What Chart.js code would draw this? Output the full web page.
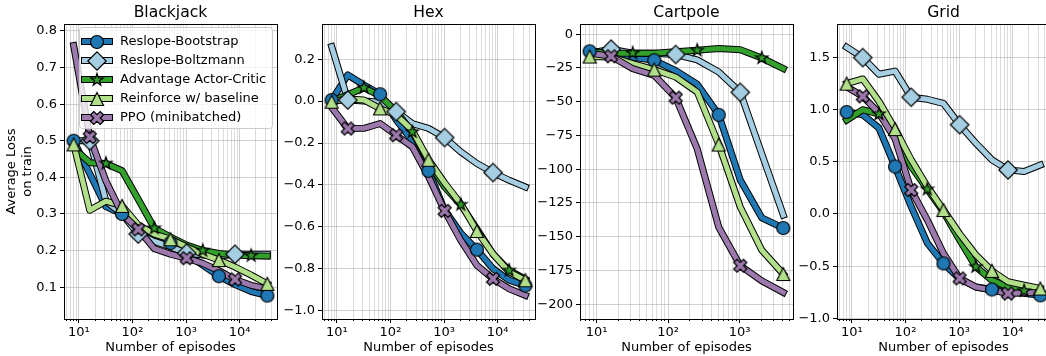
<!DOCTYPE html>
<html>
<head>
<meta charset="utf-8">
<script src="https://cdn.jsdelivr.net/npm/chart.js@4.4.1/dist/chart.umd.min.js"></script>
<style>
  html, body { margin: 0; padding: 0; background: #fff; width: 1046px; height: 356px; overflow: hidden; position: relative; }
  canvas { position: absolute; top: 0; }
</style>
</head>
<body>
<canvas id="c0" width="284" height="356" style="left:0px"></canvas>
<canvas id="c1" width="284" height="356" style="left:258px"></canvas>
<canvas id="c2" width="284" height="356" style="left:516px"></canvas>
<canvas id="c3" width="284" height="356" style="left:773px"></canvas>
<script>
/* ---- data ---- */
const episodes = [8, 16, 32, 64, 128, 256, 512, 1024, 2048, 4096, 8192, 16384, 32768];
const episodesCartpole = [8, 16, 32, 64, 128, 256, 512, 1024, 2048, 4096];

const seriesNames = ['Reslope-Bootstrap', 'Reslope-Boltzmann', 'Advantage Actor-Critic', 'Reinforce w/ baseline', 'PPO (minibatched)'];
const seriesColors = ['#1f78b4', '#a6cee3', '#33a02c', '#b2df8a', '#9c79ac'];
const seriesMarkers = ['circle', 'diamond', 'star', 'triangle', 'x'];
const markerOffsets = [0, 1, 2, 0, 1];

// Blackjack
const bjBootstrap = [0.50, 0.41, 0.32, 0.30, 0.255, 0.238, 0.221, 0.19, 0.16, 0.13, 0.107, 0.088, 0.077];
const bjBoltzmann = [0.50, 0.50, 0.335, 0.30, 0.245, 0.225, 0.21, 0.193, 0.188, 0.185, 0.19, 0.19, 0.19];
const bjA2C = [0.48, 0.44, 0.438, 0.418, 0.34, 0.261, 0.237, 0.215, 0.200, 0.192, 0.188, 0.186, 0.185];
const bjReinforce = [0.49, 0.31, 0.335, 0.322, 0.27, 0.245, 0.231, 0.21, 0.19, 0.174, 0.155, 0.133, 0.109];
const bjPPO = [0.76, 0.51, 0.39, 0.30, 0.258, 0.205, 0.19, 0.179, 0.165, 0.145, 0.121, 0.105, 0.095];

// Hex
const hexBootstrap = [0.005, 0.125, 0.077, 0.033, -0.09, -0.19, -0.333, -0.52, -0.63, -0.709, -0.80, -0.855, -0.88];
const hexBoltzmann = [0.26, 0.005, 0.0, -0.005, -0.05, -0.107, -0.13, -0.174, -0.242, -0.298, -0.341, -0.378, -0.41];
const hexA2C = [0.0, 0.03, 0.064, 0.025, -0.05, -0.147, -0.29, -0.41, -0.494, -0.61, -0.73, -0.808, -0.85];
const hexReinforce = [-0.003, 0.01, 0.005, -0.035, -0.067, -0.14, -0.28, -0.39, -0.49, -0.62, -0.73, -0.815, -0.855];
const hexPPO = [-0.03, -0.131, -0.13, -0.107, -0.163, -0.218, -0.36, -0.524, -0.665, -0.784, -0.848, -0.896, -0.927];

// Cartpole
const cpBootstrap = [-12.6, -14, -17, -19.3, -27, -37, -59.7, -108, -136, -143.6];
const cpBoltzmann = [-14, -11, -14, -14, -15, -19, -28, -43, -88.6, -134];
const cpA2C = [-13, -14, -14, -14, -13, -11.9, -10.6, -11.4, -17.6, -25.5];
const cpReinforce = [-16.5, -16.8, -21.8, -26.2, -31.7, -42.8, -81.7, -128, -160, -177.7];
const cpPPO = [-14, -16.3, -25.5, -30.4, -47, -85, -143, -171.5, -182.7, -191.3];

// Grid
const gridBootstrap = [0.978, 0.952, 0.824, 0.455, 0.07, -0.28, -0.474, -0.62, -0.70, -0.724, -0.75, -0.76, -0.78];
const gridBoltzmann = [1.60, 1.50, 1.34, 1.37, 1.12, 1.10, 1.06, 0.856, 0.68, 0.52, 0.423, 0.407, 0.47];
const gridA2C = [0.90, 1.0, 0.958, 0.776, 0.455, 0.237, 0.02, -0.25, -0.506, -0.635, -0.70, -0.737, -0.756];
const gridReinforce = [1.25, 1.295, 1.08, 0.814, 0.52, 0.263, 0.038, -0.19, -0.39, -0.545, -0.65, -0.683, -0.715];
const gridPPO = [1.22, 1.128, 0.968, 0.72, 0.23, -0.058, -0.378, -0.618, -0.70, -0.73, -0.763, -0.756, -0.756];

// axis ticks
const xTicksLong = [6, 7, 8, 9, 10, 20, 30, 40, 50, 60, 70, 80, 90, 100, 200, 300, 400, 500, 600, 700, 800, 900,
  1000, 2000, 3000, 4000, 5000, 6000, 7000, 8000, 9000, 10000, 20000, 30000, 40000];
const xTicksShort = [6, 7, 8, 9, 10, 20, 30, 40, 50, 60, 70, 80, 90, 100, 200, 300, 400, 500, 600, 700, 800, 900,
  1000, 2000, 3000, 4000, 5000];
const xTickLabels = { 10: '10¹', 100: '10²', 1000: '10³', 10000: '10⁴' };

const bjYTicks = [0.1, 0.2, 0.3, 0.4, 0.5, 0.6, 0.7, 0.8];
const bjYLabels = ['0.1', '0.2', '0.3', '0.4', '0.5', '0.6', '0.7', '0.8'];
const hexYTicks = [-1.0, -0.8, -0.6, -0.4, -0.2, 0.0, 0.2];
const hexYLabels = ['−1.0', '−0.8', '−0.6', '−0.4', '−0.2', '0.0', '0.2'];
const cpYTicks = [-200, -175, -150, -125, -100, -75, -50, -25, 0];
const cpYLabels = ['−200', '−175', '−150', '−125', '−100', '−75', '−50', '−25', '0'];
const gridYTicks = [-1.0, -0.5, 0.0, 0.5, 1.0, 1.5];
const gridYLabels = ['−1.0', '−0.5', '0.0', '0.5', '1.0', '1.5'];

/* ---- styling ---- */
const FONT = 'DejaVu Sans';
Chart.defaults.font.family = FONT;
Chart.defaults.color = '#000';
const MS = 13;
const GRID_MAJOR = 'rgba(176,176,176,0.6)';
const GRID_MINOR = 'rgba(176,176,176,0.45)';

function markerCanvas(shape, fill) {
  const size = 24;
  const c = document.createElement('canvas');
  c.width = size; c.height = size;
  const g = c.getContext('2d');
  const h = size / 2;
  const r = MS / 2;
  g.beginPath();
  if (shape === 'circle') {
    g.arc(h, h, r, 0, Math.PI * 2);
  } else if (shape === 'diamond') {
    const d = MS * Math.SQRT1_2;
    g.moveTo(h, h - d); g.lineTo(h + d, h); g.lineTo(h, h + d); g.lineTo(h - d, h);
  } else if (shape === 'triangle') {
    g.moveTo(h, h - r); g.lineTo(h + r, h + r); g.lineTo(h - r, h + r);
  } else if (shape === 'star') {
    const inner = r * 0.381966;
    for (let k = 0; k < 10; k++) {
      const a = -Math.PI / 2 + k * Math.PI / 5;
      const rr = k % 2 === 0 ? r : inner;
      g.lineTo(h + rr * Math.cos(a), h + rr * Math.sin(a));
    }
  } else if (shape === 'x') {
    const pts = [[-1, -2], [0, -1], [1, -2], [2, -1], [1, 0], [2, 1], [1, 2], [0, 1], [-1, 2], [-2, 1], [-1, 0], [-2, -1]];
    pts.forEach(([px, py]) => g.lineTo(h + px / 4 * MS, h + py / 4 * MS));
  }
  g.closePath();
  g.fillStyle = fill;
  g.fill();
  g.lineWidth = 1.2;
  g.lineJoin = 'miter';
  g.strokeStyle = '#000';
  g.stroke();
  return c;
}

const markerImgs = seriesMarkers.map((m, i) => markerCanvas(m, seriesColors[i]));

// frame + tick marks (matplotlib style box)
const axesDecor = {
  id: 'axesDecor',
  afterDatasetsDraw(chart) {
    const { ctx, chartArea: a, scales } = chart;
    const align = p => Math.round(p - 0.5) + 0.5;
    ctx.save();
    ctx.strokeStyle = '#000';
    ctx.lineWidth = 1;
    ctx.beginPath();
    scales.x.ticks.forEach(t => {
      const px = align(scales.x.getPixelForValue(t.value));
      ctx.moveTo(px, a.bottom);
      ctx.lineTo(px, a.bottom + (t.major ? 4 : 2));
    });
    scales.y.ticks.forEach(t => {
      const py = align(scales.y.getPixelForValue(t.value));
      ctx.moveTo(a.left, py);
      ctx.lineTo(a.left - 4, py);
    });
    ctx.stroke();
    ctx.strokeRect(align(a.left), align(a.top), Math.round(a.right - a.left), Math.round(a.bottom - a.top));
    ctx.restore();
  },
  afterDraw(chart, args, opts) {
    const { ctx, chartArea: a } = chart;
    ctx.save();
    ctx.font = '15.6px "' + FONT + '"';
    ctx.fillStyle = '#000';
    ctx.textAlign = 'center';
    ctx.textBaseline = 'middle';
    ctx.fillText(opts.title, (a.left + a.right) / 2, 13);
    ctx.restore();
  }
};

// legend drawn inside the Blackjack axes
const legendInside = {
  id: 'legendInside',
  afterDraw(chart) {
    const { ctx } = chart;
    ctx.save();
    const bx = 79.5, by = 27.5, bw = 193, bh = 101;
    ctx.beginPath();
    ctx.roundRect(bx, by, bw, bh, 3);
    ctx.fillStyle = 'rgba(255,255,255,0.8)';
    ctx.fill();
    ctx.strokeStyle = '#cccccc';
    ctx.lineWidth = 1;
    ctx.stroke();
    seriesNames.forEach((name, i) => {
      const yy = 41.5 + i * 19;
      ctx.lineCap = 'butt';
      ctx.strokeStyle = '#000';
      ctx.lineWidth = 7;
      ctx.beginPath(); ctx.moveTo(81, yy); ctx.lineTo(113, yy); ctx.stroke();
      ctx.strokeStyle = seriesColors[i];
      ctx.lineWidth = 5;
      ctx.beginPath(); ctx.moveTo(82, yy); ctx.lineTo(112, yy); ctx.stroke();
      const img = markerImgs[i];
      ctx.drawImage(img, 97 - img.width / 2, Math.round(yy) - img.height / 2);
      ctx.font = '13px "' + FONT + '"';
      ctx.fillStyle = '#000';
      ctx.textAlign = 'left';
      ctx.textBaseline = 'middle';
      ctx.fillText(name, 120, yy);
    });
    ctx.restore();
  }
};

function makePanel(id, title, xs, series, xMin, xMax, xTicks, yMin, yMax, yTicks, yLabels, withYTitle, extraPlugins) {
  const datasets = [];
  series.forEach((vals, s) => {
    const pts = xs.map((e, i) => ({ x: e, y: vals[i] }));
    datasets.push({
      data: pts, borderColor: '#000', borderWidth: 7, pointRadius: 0,
      borderCapStyle: 'square', borderJoinStyle: 'round', order: 100 - 2 * s
    });
    datasets.push({
      data: pts, borderColor: seriesColors[s], borderWidth: 5, pointRadius: 0,
      borderCapStyle: 'square', borderJoinStyle: 'round', order: 99 - 2 * s
    });
    datasets.push({
      data: pts, showLine: false, pointStyle: markerImgs[s],
      pointRadius: ctx => (ctx.dataIndex % 3 === markerOffsets[s] ? 6 : 0),
      order: 80 - s
    });
  });

  return new Chart(document.getElementById(id), {
    type: 'line',
    data: { datasets },
    plugins: [axesDecor].concat(extraPlugins || []),
    options: {
      responsive: false,
      animation: false,
      events: [],
      layout: { padding: { top: 24, right: 6, left: 0, bottom: 0 } },
      plugins: {
        legend: { display: false },
        tooltip: { enabled: false },
        axesDecor: { title: title }
      },
      scales: {
        x: {
          type: 'logarithmic',
          min: xMin, max: xMax,
          afterBuildTicks: sc => { sc.ticks = xTicks.map(v => ({ value: v, major: v in xTickLabels })); },
          afterFit: sc => { sc.height = 37; },
          ticks: {
            autoSkip: false, maxRotation: 0, minRotation: 0, padding: 6,
            font: { size: 13 }, color: '#000',
            callback: v => xTickLabels[v] || ''
          },
          grid: { color: c => (c.tick && c.tick.major ? GRID_MAJOR : GRID_MINOR), lineWidth: 1, drawTicks: false },
          border: { display: false },
          title: { display: true, text: 'Number of episodes', font: { size: 13, lineHeight: 1.2 }, color: '#000', padding: { top: 0, bottom: 1 } }
        },
        y: {
          type: 'linear',
          min: yMin, max: yMax,
          afterBuildTicks: sc => { sc.ticks = yTicks.map(v => ({ value: v })); },
          afterFit: sc => { sc.width = 64; },
          ticks: {
            padding: 7, font: { size: 13 }, color: '#000',
            callback: (v, i) => yLabels[i]
          },
          grid: { color: GRID_MAJOR, lineWidth: 1, drawTicks: false },
          border: { display: false },
          title: {
            display: withYTitle, text: ['Average Loss', 'on train'],
            font: { size: 13, lineHeight: 1.2 }, color: '#000', padding: { top: 4, bottom: 0 }
          }
        }
      }
    }
  });
}

makePanel('c0', 'Blackjack', episodes, [bjBootstrap, bjBoltzmann, bjA2C, bjReinforce, bjPPO],
  5.28, 49660, xTicksLong, 0.013, 0.819, bjYTicks, bjYLabels, true, [legendInside]);
makePanel('c1', 'Hex', episodes, [hexBootstrap, hexBoltzmann, hexA2C, hexReinforce, hexPPO],
  5.28, 49660, xTicksLong, -1.04, 0.368, hexYTicks, hexYLabels, false);
makePanel('c2', 'Cartpole', episodesCartpole, [cpBootstrap, cpBoltzmann, cpA2C, cpReinforce, cpPPO],
  5.86, 5600, xTicksShort, -211, 7.6, cpYTicks, cpYLabels, false);
makePanel('c3', 'Grid', episodes, [gridBootstrap, gridBoltzmann, gridA2C, gridReinforce, gridPPO],
  5.28, 49660, xTicksLong, -1.007, 1.822, gridYTicks, gridYLabels, false);
</script>
</body>
</html>
